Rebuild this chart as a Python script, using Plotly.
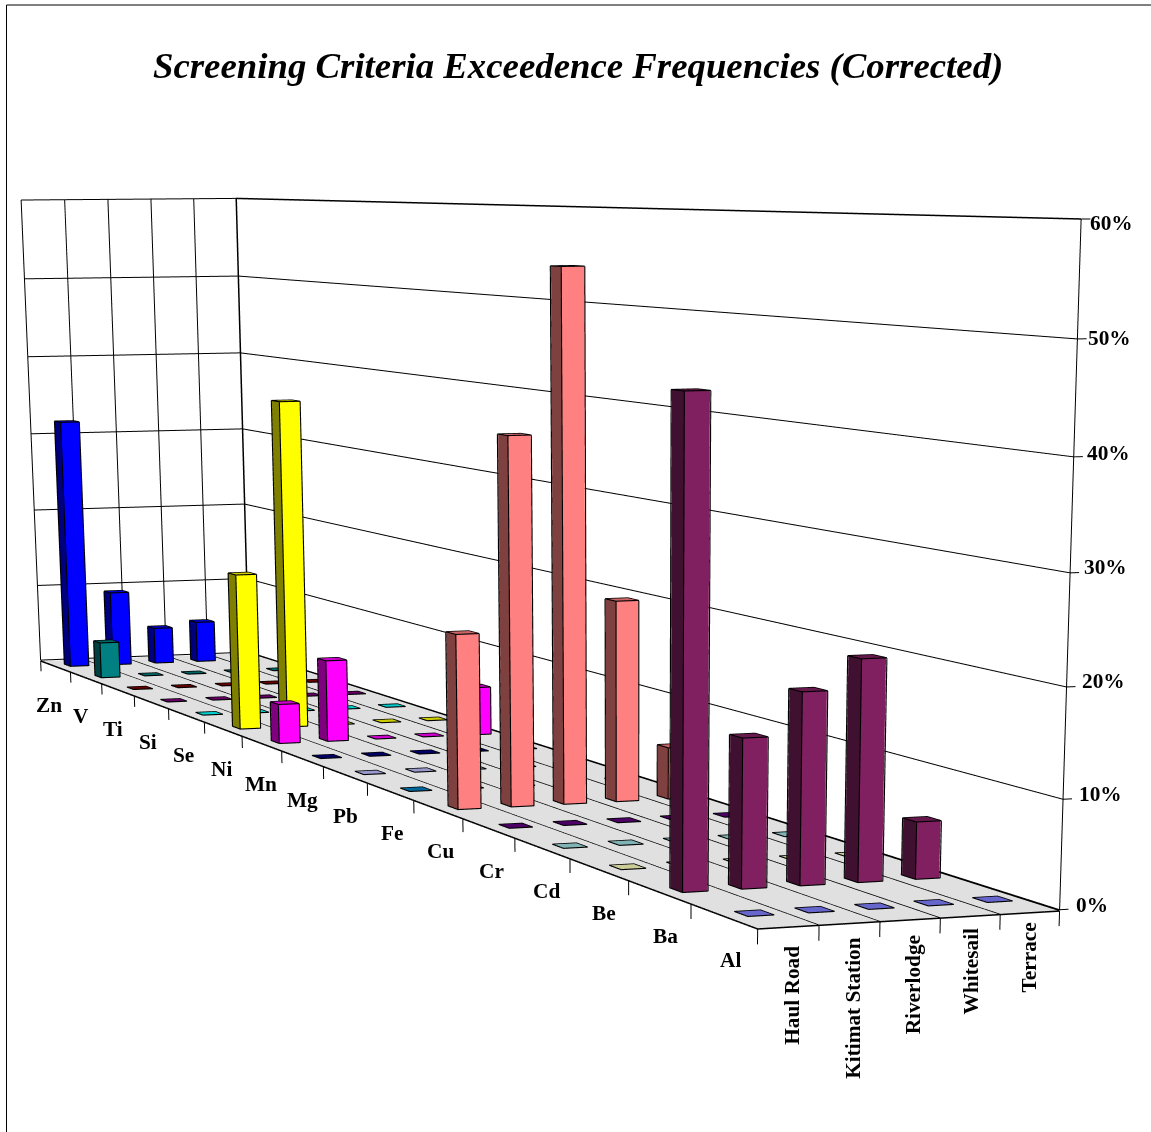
import plotly.graph_objects as go

# Stations run along x, metals along y (Al nearest the viewer), exceedance % on z.
SITES = ["Haul Road", "Kitimat Station", "Riverlodge", "Whitesail", "Terrace"]
METALS = ["Al", "Ba", "Be", "Cd", "Cr", "Cu", "Fe", "Pb", "Mg", "Mn", "Ni", "Se", "Si", "Ti", "V", "Zn"]
COLORS = ["#8080FF", "#802060", "#FFFFC0", "#A0E0E0", "#600080", "#FF8080", "#0080C0", "#C0C0FF",
          "#000080", "#FF00FF", "#FFFF00", "#00FFFF", "#800080", "#800000", "#008080", "#0000FF"]
al = [0, 0, 0, 0, 0]
ba = [45.2, 14, 18, 20.8, 5.4]
be = [0, 0, 0, 0, 0]
cd = [0, 0, 0, 0, 0]
cr = [0, 0, 0, 0, 0]
cu = [18.1, 38, 54.6, 20.9, 5.4]
fe = [0, 0, 0, 0, 0]
pb = [0, 0, 0, 0, 0]
mg = [0, 0, 0, 0, 0]
mn = [4.5, 9.3, 0, 0, 5.5]
ni = [18.1, 37.9, 0, 0, 0]
se = [0, 0, 0, 0, 0]
si = [0, 0, 0, 0, 0]
ti = [0, 0, 0, 0, 0]
v = [4.5, 0, 0, 0, 0]
zn = [31.9, 9.5, 4.6, 5.2, 0]
ROWS = [al, ba, be, cd, cr, cu, fe, pb, mg, mn, ni, se, si, ti, v, zn]
PCT_TICKS = [0, 10, 20, 30, 40, 50, 60]

# The z range runs a little past 60 so the top wall edge is not clipped by the scene box.
X_RANGE, Y_RANGE, Z_RANGE = [0, 5.3], [0, 16], [-2, 61]
ASPECT = dict(x=1.06, y=8.86408, z=2.09195)
EYE = dict(x=-6.05179, y=-18.08779, z=1.20032)
CENTER = dict(x=-5.73499, y=-17.20919, z=0.84299)
UP = dict(x=0.12542, y=0.33463, z=0.93397)

# plotly's field of view is fixed, so a long lens needs a tall scene; the page shows its top part.
VIEW_W, VIEW_H, SCENE_H = 1151, 1132, 4000

BAR_W, BAR_D = 0.42, 0.19
FLOOR_Z = -0.12
TICK_Z = -1.5
EDGE_GAP = 0.012

# Pixel nudges for the axis labels.
PCT_DX = [-2, -2, -3, -4, -5, -7, -9]
PCT_DY = [-5, -5, -6, -6, -4, -1, 4]
SITE_DX = [4, 4, 3, 1, 0]
SITE_DY = [4, -1, 1, -3, -5]


def shade(color, k):
    c = [int(color[i:i + 2], 16) for i in (1, 3, 5)]
    return "rgb(%d,%d,%d)" % tuple(int(q * k) for q in c)


class Polylines:
    """Collects separate 3D polylines into one None-separated trace."""

    def __init__(self):
        self.x, self.y, self.z = [], [], []

    def add(self, xs, ys, zs):
        self.x.extend(list(xs) + [None])
        self.y.extend(list(ys) + [None])
        self.z.extend(list(zs) + [None])

    def trace(self, width):
        return go.Scatter3d(x=self.x, y=self.y, z=self.z, mode="lines",
                            line=dict(color="black", width=width), hoverinfo="skip")


mesh = dict(x=[], y=[], z=[], i=[], j=[], k=[], facecolor=[])


def quad(corners, color):
    n = len(mesh["x"])
    for cx, cy, cz in corners:
        mesh["x"].append(cx)
        mesh["y"].append(cy)
        mesh["z"].append(cz)
    mesh["i"].extend([n, n])
    mesh["j"].extend([n + 1, n + 2])
    mesh["k"].extend([n + 2, n + 3])
    mesh["facecolor"].extend([color, color])


# Each bar shows a bright front, a dark left side and a mid-tone top; zero values leave just the top.
edges = Polylines()
for k, (row, color) in enumerate(zip(ROWS, COLORS)):
    for j, val in enumerate(row):
        x0, x1 = j + 0.5 - BAR_W / 2, j + 0.5 + BAR_W / 2
        y0, y1 = k + 0.5 - BAR_D / 2, k + 0.5 + BAR_D / 2
        ex0, ey0 = x0 - EDGE_GAP, y0 - EDGE_GAP
        quad([(x0, y0, val), (x1, y0, val), (x1, y1, val), (x0, y1, val)], shade(color, 0.8))
        edges.add([ex0, x1, x1, ex0, ex0], [ey0, ey0, y1, y1, ey0], [val + 0.02] * 5)
        if val > 0:
            quad([(x0, y0, 0), (x1, y0, 0), (x1, y0, val), (x0, y0, val)], color)
            quad([(x0, y1, 0), (x0, y0, 0), (x0, y0, val), (x0, y1, val)], shade(color, 0.5))
            edges.add([ex0, x1, x1], [ey0, ey0, ey0], [0, 0, val])
            edges.add([ex0, ex0, ex0], [y1, y1, ey0], [val, 0, 0])
            edges.add([ex0, ex0], [ey0, ey0], [0, val])

# Wall grid, floor separators and axis ticks.
grid = Polylines()
for t in PCT_TICKS:
    grid.add([0, 5, 5], [16, 16, 0], [t, t, t])
    grid.add([5, 5.15], [0, 0], [t, t])
for j in range(len(SITES) + 1):
    grid.add([j, j], [16, 16], [0, 60])
    grid.add([j, j], [0, 16], [FLOOR_Z + 0.02] * 2)
    grid.add([j, j], [0, 0], [FLOOR_Z, TICK_Z])
for k in range(len(METALS) + 1):
    grid.add([0, 0], [k, k], [FLOOR_Z, TICK_Z])
grid.add([5, 5], [0, 0], [0, 60])

outline = Polylines()
outline.add([0, 0], [0, 16], [FLOOR_Z, FLOOR_Z])
outline.add([0, 5], [0, 0], [FLOOR_Z, FLOOR_Z])
outline.add([5, 5], [0, 16], [FLOOR_Z, FLOOR_Z])
outline.add([5, 5], [16, 16], [0, 60])
outline.add([5, 5], [16, 0], [60, 60])

flat = dict(ambient=1, diffuse=0, specular=0, fresnel=0)
floor = go.Mesh3d(x=[0, 5, 5, 0], y=[0, 0, 16, 16], z=[FLOOR_Z] * 4, i=[0, 0], j=[1, 2], k=[2, 3],
                  color="#E0E0E0", flatshading=True, lighting=flat, hoverinfo="skip")
bars = go.Mesh3d(flatshading=True, lighting=flat, hoverinfo="skip", **mesh)

LABEL = dict(family="Liberation Serif", size=21.3, color="black")
labels = []
for t, dx, dy in zip(PCT_TICKS, PCT_DX, PCT_DY):
    labels.append(dict(x=5, y=0, z=t, text="<b>%d%%</b>" % t, showarrow=False, xanchor="left",
                       yanchor="middle", xshift=16 + dx, yshift=-dy, font=LABEL))
for k, name in enumerate(METALS):
    labels.append(dict(x=0, y=k + 0.5, z=0, text="<b>%s</b>" % name, showarrow=False, xanchor="center",
                       yanchor="middle", xshift=7 - 0.87 * k, yshift=-45 + 0.4 * k, font=LABEL))
for j, (name, dx, dy) in enumerate(zip(SITES, SITE_DX, SITE_DY)):
    labels.append(dict(x=j + 0.5, y=0, z=0, text="<b>%s</b>" % name, showarrow=False, textangle=-90,
                       xanchor="center", yanchor="top", xshift=dx, yshift=-14 - dy, font=LABEL))

hidden = dict(visible=False, autorange=False)
fig = go.Figure([floor, bars, grid.trace(2), outline.trace(3), edges.trace(2.2)])
fig.update_layout(
    width=VIEW_W, height=SCENE_H, margin=dict(l=0, r=0, t=0, b=0), paper_bgcolor="white", showlegend=False,
    scene=dict(
        domain=dict(x=[0, 1], y=[0, 1]), bgcolor="white",
        xaxis=dict(range=X_RANGE, **hidden), yaxis=dict(range=Y_RANGE, **hidden), zaxis=dict(range=Z_RANGE, **hidden),
        aspectmode="manual", aspectratio=ASPECT,
        camera=dict(eye=EYE, center=CENTER, up=UP, projection=dict(type="perspective")),
        annotations=labels,
    ),
    annotations=[
        dict(xref="paper", yref="paper", x=577.5 / VIEW_W, y=1 - 66 / SCENE_H, yanchor="middle", showarrow=False,
             text="<b><i>Screening Criteria Exceedence Frequencies (Corrected)</i></b>",
             font=dict(family="Liberation Serif", size=36.8, color="black")),
    ],
    shapes=[
        dict(type="line", xref="paper", yref="paper", x0=6.5 / VIEW_W, x1=1, y0=1 - 5 / SCENE_H, y1=1 - 5 / SCENE_H,
             line=dict(color="black", width=1)),
        dict(type="line", xref="paper", yref="paper", x0=6.5 / VIEW_W, x1=6.5 / VIEW_W,
             y0=1 - VIEW_H / SCENE_H, y1=1 - 5 / SCENE_H, line=dict(color="black", width=1)),
    ],
)
clip = ("var g=document.getElementById('{plot_id}');"
        "g.parentElement.style.height='%dpx';g.parentElement.style.overflow='hidden';" % VIEW_H)
fig.write_html("out.html", config=dict(displayModeBar=False), post_script=clip)
